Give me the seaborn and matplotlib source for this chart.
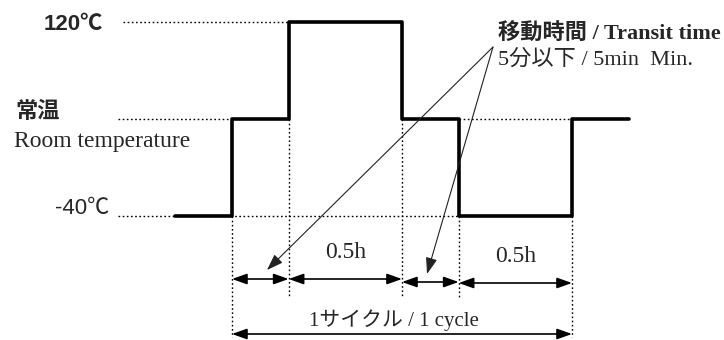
import matplotlib
matplotlib.use("Agg")
import matplotlib.pyplot as plt
import seaborn as sns
import pandas as pd

# ---------------- data ----------------
# time axis in drawing units: transit ≈ 1 unit, 0.5 h dwell ≈ 2 units (not to scale)
phase_time = [0, 1, 2, 4, 5, 7, 8]
phase_temp = [-40, 40, 120, 40, -40, 40, 40]   # 40 = drawn level of room temperature
level_values = [120, 40, -40]
level_labels = ["120℃", "常温", "-40℃"]
room_label_en = "Room temperature"
dwell_labels = ["0.5h", "0.5h"]
cycle_label = "1サイクル / 1 cycle"
transit_lines = ["移動時間 / Transit time", "5分以下 / 5min  Min."]

df = pd.DataFrame({"time": phase_time, "temp": phase_temp})

# ---------------- layout helpers (pixel -> data) ----------------
W, H = 724, 340
X0, SX = 175.3, 56.67          # pixel of t=0, pixels per time unit
Y0, SY = 216.0, 97.0 / 80.0    # pixel of -40 level, pixels per degree


def dx(p):
    return (p - X0) / SX


def dy(p):
    return -40 - (p - Y0) / SY


sns.set_theme(style="white")
plt.rcParams["font.family"] = ["Liberation Serif", "Noto Sans CJK JP", "DejaVu Sans"]

fig = plt.figure(figsize=(W / 100, H / 100), dpi=100)
ax = fig.add_axes([0, 0, 1, 1])
ax.set_xlim(dx(0), dx(W))
ax.set_ylim(dy(H), dy(0))
ax.axis("off")

t = phase_time
dot = dict(color="black", lw=1.0, linestyle=(0, (1.2, 1.8)), zorder=1)

# horizontal dotted guides
ax.plot([dx(123), t[2]], [level_values[0]] * 2, **dot)
ax.plot([dx(118), t[1]], [level_values[1]] * 2, **dot)
ax.plot([t[4], t[5]], [level_values[1]] * 2, **dot)
ax.plot([dx(118), t[4]], [level_values[2]] * 2, **dot)

# vertical dotted guides
row_a, row_b, row_c, row_bot = dy(279), dy(282), dy(283), dy(334)
vlines = [(t[1], level_values[2], dy(337)),
          (t[2], level_values[1], dy(298)),
          (t[3], level_values[1], dy(298)),
          (t[4], level_values[2], dy(298)),
          (t[5], level_values[2], dy(337))]
for x, y1, y2 in vlines:
    ax.plot([x, x], [y1, y2], **dot)

# waveform
sns.lineplot(data=df, x="time", y="temp", ax=ax, color="black", lw=2.6,
             drawstyle="steps-post", estimator=None, sort=False, zorder=3)
ax.set_xlabel("")
ax.set_ylabel("")

# dimension arrows
dim = dict(arrowstyle="<|-|>,head_length=0.9,head_width=0.32", color="black",
           lw=1.2, shrinkA=0, shrinkB=0, mutation_scale=10)
spans = [(t[1], t[2], row_a), (t[2], t[3], row_a), (t[3], t[4], row_b),
         (t[4], t[5], row_c), (t[1], t[5], row_bot)]
for x1, x2, y in spans:
    ax.annotate("", xy=(x2, y), xytext=(x1, y), arrowprops=dim)

# transit pointer arrows
ptr = dict(arrowstyle="-|>,head_length=1.0,head_width=0.35", color="#222222",
           lw=0.8, shrinkA=0, shrinkB=0, mutation_scale=10)
start = (dx(493), dy(47))
for tip in [(dx(267), dy(270)), (dx(427), dy(274))]:
    ax.annotate("", xy=tip, xytext=start, arrowprops=ptr)

# level labels
sans = ["Liberation Sans", "Noto Sans CJK JP"]
ax.text(dx(103), dy(24), level_labels[0], ha="right", va="center",
        fontsize=16, fontweight="bold", family=sans)
ax.text(dx(15), dy(111), level_labels[1], ha="left", va="center",
        fontsize=16, fontweight="bold", family=["Noto Sans CJK JP"])
ax.text(dx(14), dy(141), room_label_en, ha="left", va="center", fontsize=17)
ax.text(dx(109), dy(209), level_labels[2], ha="right", va="center",
        fontsize=16, family=sans)

# span labels
ax.text((t[2] + t[3]) / 2, dy(253), dwell_labels[0], ha="center", va="center", fontsize=17)
ax.text((t[4] + t[5]) / 2, dy(256), dwell_labels[1], ha="center", va="center", fontsize=17)
ax.text(dx(394), dy(320), cycle_label, ha="center", va="center", fontsize=15)

# transit text
ax.text(dx(498), dy(34), transit_lines[0], ha="left", va="center",
        fontsize=16, fontweight="bold")
ax.text(dx(498), dy(60), transit_lines[1], ha="left", va="center", fontsize=16)

fig.savefig("out.png", dpi=100)
